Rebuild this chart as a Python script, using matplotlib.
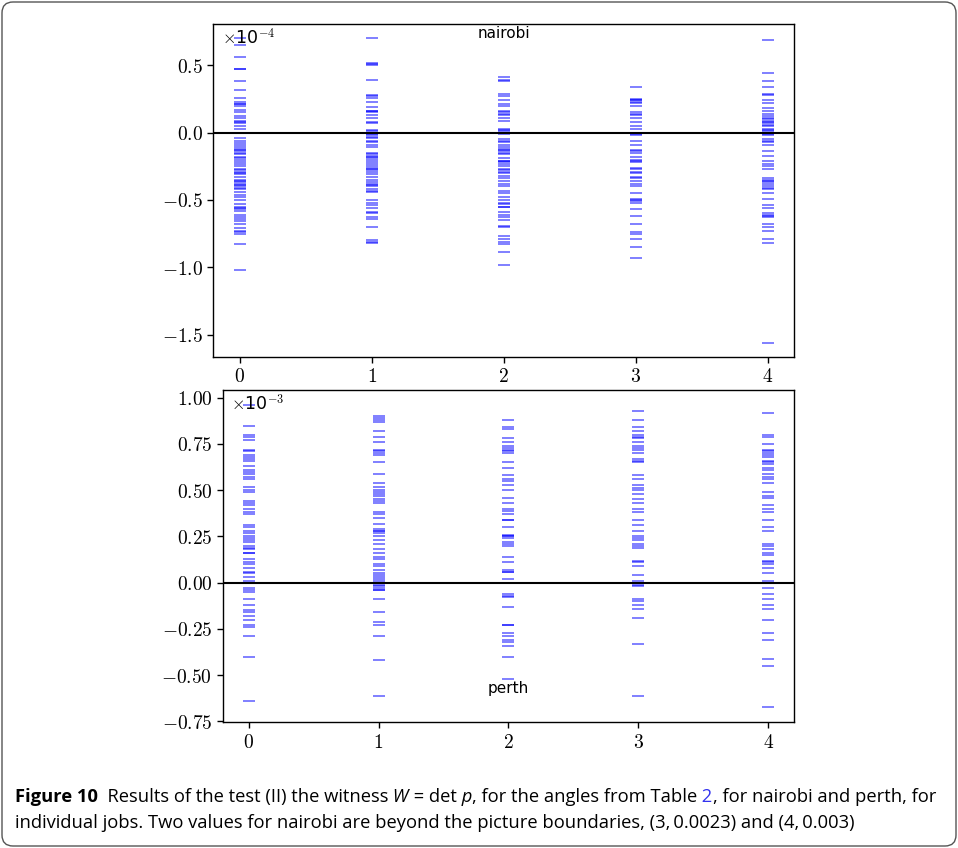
import matplotlib.pyplot as plt
from matplotlib.patches import FancyBboxPatch
from matplotlib.ticker import FuncFormatter
from matplotlib.transforms import IdentityTransform

plt.rcParams['mathtext.fontset'] = 'cm'

jobs = [0, 1, 2, 3, 4]

# nairobi, witness W in units of 1e-4 (23.0 and 30.0 lie above the plot)
nairobi_0 = [0.70, 0.65, 0.56, 0.47, 0.47, 0.38, 0.32, 0.26, 0.23, 0.21, 0.21, 0.20, 0.17, 0.15,
             0.12, 0.11, 0.09, 0.08, 0.07, 0.05, 0.03, -0.04, -0.06, -0.08, -0.09, -0.11, -0.12,
             -0.13, -0.14, -0.15, -0.16, -0.18, -0.19, -0.20, -0.22, -0.23, -0.25, -0.27, -0.28,
             -0.29, -0.30, -0.31, -0.33, -0.35, -0.36, -0.37, -0.38, -0.39, -0.40, -0.41, -0.42,
             -0.44, -0.46, -0.48, -0.50, -0.53, -0.55, -0.56, -0.57, -0.58, -0.61, -0.63, -0.64,
             -0.66, -0.68, -0.71, -0.73, -0.74, -0.75, -0.83, -1.02]
nairobi_1 = [0.70, 0.52, 0.51, 0.50, 0.39, 0.28, 0.27, 0.26, 0.23, 0.19, 0.16, 0.16, 0.15, 0.13,
             0.11, 0.08, 0.07, 0.02, 0.01, -0.01, -0.02, -0.03, -0.04, -0.06, -0.07, -0.09,
             -0.11, -0.15, -0.16, -0.17, -0.18, -0.19, -0.20, -0.22, -0.23, -0.25, -0.26, -0.27,
             -0.28, -0.29, -0.31, -0.33, -0.35, -0.37, -0.38, -0.39, -0.40, -0.42, -0.43, -0.44,
             -0.50, -0.52, -0.54, -0.56, -0.59, -0.60, -0.63, -0.64, -0.70, -0.80, -0.81, -0.82]
nairobi_2 = [0.41, 0.39, 0.38, 0.29, 0.27, 0.24, 0.21, 0.20, 0.16, 0.15, 0.14, 0.13, 0.11, 0.09,
             0.03, 0.02, 0.01, 0.00, -0.01, -0.05, -0.06, -0.07, -0.09, -0.11, -0.12, -0.13,
             -0.14, -0.15, -0.16, -0.19, -0.21, -0.21, -0.22, -0.23, -0.25, -0.27, -0.28, -0.29,
             -0.30, -0.32, -0.34, -0.36, -0.38, -0.40, -0.43, -0.45, -0.48, -0.50, -0.52, -0.53,
             -0.55, -0.55, -0.59, -0.61, -0.63, -0.65, -0.69, -0.70, -0.77, -0.79, -0.81, -0.83,
             -0.89, -0.98]
nairobi_3 = [23.0, 0.34, 0.25, 0.24, 0.24, 0.23, 0.22, 0.20, 0.15, 0.14, 0.13, 0.11, 0.08, 0.05,
             0.03, -0.01, -0.02, -0.06, -0.09, -0.13, -0.14, -0.15, -0.18, -0.20, -0.21, -0.22,
             -0.26, -0.27, -0.29, -0.30, -0.33, -0.34, -0.36, -0.38, -0.40, -0.45, -0.49, -0.50,
             -0.51, -0.52, -0.57, -0.62, -0.68, -0.74, -0.75, -0.79, -0.85, -0.93]
nairobi_4 = [30.0, 0.69, 0.44, 0.38, 0.34, 0.29, 0.28, 0.24, 0.22, 0.18, 0.16, 0.14, 0.12, 0.11,
             0.10, 0.09, 0.08, 0.07, 0.06, 0.05, 0.03, 0.02, 0.01, -0.01, -0.02, -0.05, -0.06,
             -0.07, -0.09, -0.14, -0.17, -0.21, -0.23, -0.25, -0.27, -0.34, -0.35, -0.36, -0.37,
             -0.38, -0.40, -0.41, -0.42, -0.45, -0.49, -0.54, -0.56, -0.60, -0.61, -0.62, -0.63,
             -0.68, -0.70, -0.73, -0.79, -0.82, -1.56]

# perth, witness W in units of 1e-3
perth_0 = [0.96, 0.85, 0.80, 0.79, 0.77, 0.72, 0.71, 0.69, 0.68, 0.67, 0.66, 0.63, 0.61, 0.60,
           0.59, 0.57, 0.56, 0.52, 0.50, 0.49, 0.44, 0.43, 0.42, 0.40, 0.38, 0.37, 0.31, 0.30,
           0.28, 0.27, 0.25, 0.24, 0.23, 0.22, 0.20, 0.19, 0.18, 0.16, 0.16, 0.13, 0.11, 0.10,
           0.08, 0.06, 0.05, 0.03, 0.01, -0.03, -0.04, -0.05, -0.09, -0.12, -0.15, -0.16,
           -0.18, -0.20, -0.23, -0.24, -0.29, -0.40, -0.64]
perth_1 = [0.90, 0.89, 0.88, 0.87, 0.82, 0.79, 0.76, 0.72, 0.71, 0.70, 0.69, 0.65, 0.59, 0.54,
           0.52, 0.50, 0.49, 0.48, 0.47, 0.45, 0.44, 0.43, 0.38, 0.37, 0.35, 0.32, 0.29, 0.28,
           0.28, 0.27, 0.25, 0.23, 0.21, 0.18, 0.16, 0.14, 0.13, 0.10, 0.09, 0.07, 0.05, 0.04,
           0.03, 0.02, 0.01, -0.01, -0.02, -0.03, -0.04, -0.04, -0.09, -0.16, -0.21, -0.23,
           -0.29, -0.42, -0.61]
perth_2 = [0.88, 0.84, 0.83, 0.78, 0.76, 0.74, 0.73, 0.72, 0.71, 0.70, 0.65, 0.62, 0.58, 0.56,
           0.55, 0.53, 0.50, 0.46, 0.43, 0.40, 0.39, 0.37, 0.34, 0.34, 0.30, 0.26, 0.25, 0.25,
           0.24, 0.22, 0.21, 0.20, 0.14, 0.11, 0.07, 0.06, 0.06, 0.02, 0.00, -0.06, -0.07,
           -0.08, -0.13, -0.23, -0.23, -0.27, -0.29, -0.31, -0.32, -0.34, -0.40, -0.52]
perth_3 = [0.93, 0.88, 0.84, 0.82, 0.80, 0.79, 0.78, 0.76, 0.74, 0.73, 0.72, 0.70, 0.67, 0.66,
           0.65, 0.58, 0.56, 0.53, 0.51, 0.50, 0.48, 0.45, 0.43, 0.40, 0.38, 0.34, 0.31, 0.28,
           0.25, 0.24, 0.23, 0.21, 0.20, 0.19, 0.12, 0.11, 0.09, 0.04, 0.01, -0.01, -0.02,
           -0.09, -0.10, -0.12, -0.14, -0.19, -0.33, -0.61]
perth_4 = [0.92, 0.80, 0.79, 0.75, 0.72, 0.71, 0.70, 0.69, 0.68, 0.66, 0.65, 0.64, 0.62, 0.61,
           0.59, 0.57, 0.56, 0.54, 0.49, 0.47, 0.46, 0.42, 0.40, 0.38, 0.34, 0.30, 0.28, 0.21,
           0.20, 0.18, 0.16, 0.15, 0.12, 0.11, 0.10, 0.08, 0.05, 0.01, -0.03, -0.06, -0.09,
           -0.12, -0.14, -0.20, -0.27, -0.31, -0.41, -0.45, -0.67]

nairobi = [nairobi_0, nairobi_1, nairobi_2, nairobi_3, nairobi_4]
perth = [perth_0, perth_1, perth_2, perth_3, perth_4]

fig = plt.figure(figsize=(9.58, 8.48), dpi=100)
ax1 = fig.add_axes([0.2227, 0.5794, 0.6062, 0.3920])
ax2 = fig.add_axes([0.2325, 0.1482, 0.5964, 0.3919])


def draw(ax, columns, ylim, yticks, fmt, name, name_y, exp):
    for x, vals in zip(jobs, columns):
        ax.plot([x] * len(vals), vals, '_', color='blue', alpha=0.5, ms=9, mew=1.4)
    ax.axhline(0, color='k', lw=1.5)
    ax.set_xlim(-0.2, 4.2)
    ax.set_ylim(*ylim)
    ax.set_xticks(jobs)
    ax.set_yticks(yticks)
    ax.xaxis.set_major_formatter(FuncFormatter(lambda v, p: '$%d$' % v))
    ax.yaxis.set_major_formatter(FuncFormatter(lambda v, p: fmt % v))
    ax.tick_params(labelsize=14, width=1.0, length=4)
    for s in ax.spines.values():
        s.set_linewidth(1.0)
    ax.text(0.5, name_y, name, transform=ax.transAxes, ha='center', va='center', fontsize=11)
    ax.text(0.015, 0.94, r'$\times\mathregular{10}^{%d}$' % exp, transform=ax.transAxes,
            fontsize=12.5, va='baseline')


draw(ax1, nairobi, (-1.664, 0.805), [-1.5, -1.0, -0.5, 0.0, 0.5], '$%.1f$', 'nairobi', 0.971, -4)
draw(ax2, perth, (-0.755, 1.042), [-0.75, -0.5, -0.25, 0.0, 0.25, 0.5, 0.75, 1.0], '$%.2f$',
     'perth', 0.103, -3)

# frame round the figure
fig.patches.append(FancyBboxPatch((2, 2), 954, 844, boxstyle='round,pad=0,rounding_size=11',
                                  transform=IdentityTransform(), fill=False, ec='#555555', lw=1))

# caption
cap_font = ['Open Sans', 'DejaVu Sans']
cap_size = 13.2
prev = fig.text(15 / 958, 1 - 801.7 / 848, 'Figure 10', fontsize=cap_size, fontweight='bold',
                family=cap_font, va='baseline')
pieces = [('  Results of the test (II) the witness', 'normal', 'black'),
          (' W', 'italic', 'black'),
          (' = det', 'normal', 'black'),
          (' p', 'italic', 'black'),
          (', for the angles from Table', 'normal', 'black'),
          (' 2', 'normal', '#3333ee'),
          (', for nairobi and perth, for', 'normal', 'black')]
for s, style, color in pieces:
    prev = ax2.annotate(s, xy=(1, 0), xycoords=prev, ha='left', va='bottom', fontsize=cap_size,
                        fontstyle=style, color=color, family=cap_font, annotation_clip=False)
fig.text(15 / 958, 1 - 827.5 / 848,
         'individual jobs. Two values for nairobi are beyond the picture boundaries, '
         '(3,\u20090.0023) and (4,\u20090.003)',
         fontsize=cap_size, family=cap_font, va='baseline')

fig.savefig('out.png', dpi=100)
